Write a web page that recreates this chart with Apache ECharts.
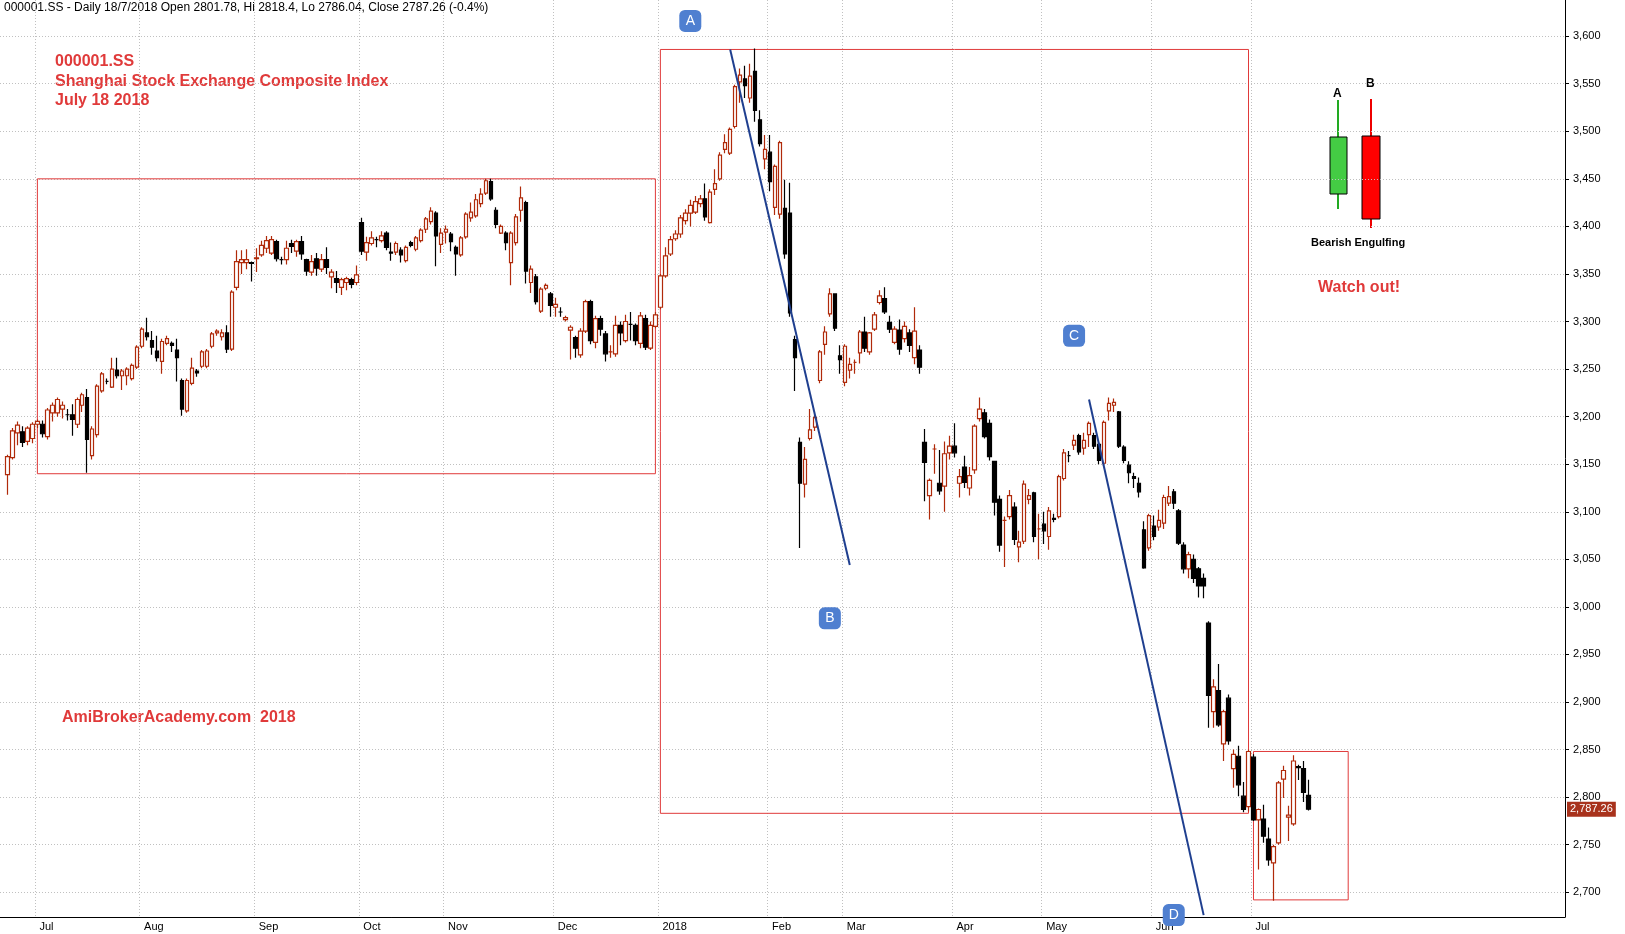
<!DOCTYPE html>
<html><head><meta charset="utf-8">
<script src="https://cdn.jsdelivr.net/npm/echarts@6/dist/echarts.min.js"></script>
<style>html,body{margin:0;padding:0;background:#fff}#c{width:1625px;height:934px}</style>
</head><body><div id="c"></div>
<script>
// [open, close, low, high]
const seg1 = [[3139,3158,3118,3160],[3157,3185,3155,3188],[3183,3191,3170,3195],[3184,3173,3168,3190],[3174,3188,3170,3190],[3177,3192,3172,3194],[3192,3195,3188,3197],[3192,3182,3178,3196],[3179,3207,3176,3209],[3204,3212,3195,3215],[3204,3218,3200,3220],[3208,3212,3198,3216],[3202,3202,3196,3208],[3202,3197,3180,3213],[3192,3218,3188,3220],[3212,3223,3205,3225],[3220,3176,3141,3229],[3159,3187,3155,3190],[3181,3232,3178,3234],[3227,3245,3225,3247],[3237,3237,3234,3240],[3231,3250,3230,3262],[3249,3243,3240,3262],[3243,3248,3228,3250],[3243,3250,3233,3252],[3240,3254,3238,3256],[3252,3273,3250,3275],[3274,3292,3272,3294],[3288,3284,3280,3304],[3280,3273,3265,3290],[3269,3262,3258,3285],[3258,3279,3245,3282],[3277,3282,3275,3285],[3277,3275,3268,3279],[3270,3262,3237,3282],[3238,3208,3201,3240],[3206,3238,3204,3240],[3235,3251,3233,3262],[3248,3246,3242,3250],[3253,3268,3251,3270],[3253,3269,3251,3271],[3274,3287,3272,3289],[3288,3290,3285,3292],[3284,3288,3280,3292],[3288,3271,3267,3296],[3271,3331,3269,3333],[3336,3363,3333,3375],[3362,3365,3350,3375],[3362,3365,3355,3376],[3362,3361,3342,3363],[3366,3367,3352,3377],[3370,3380,3368,3385],[3377,3385,3372,3390],[3372,3386,3370,3390],[3384,3366,3363,3386],[3365,3365,3360,3368],[3365,3377,3360,3385],[3382,3379,3372,3386],[3374,3384,3368,3386],[3384,3371,3365,3390],[3365,3353,3348,3366],[3352,3363,3348,3370],[3366,3356,3348,3372],[3355,3365,3352,3371],[3365,3357,3350,3378],[3347,3352,3335,3355]];
const seg2 = [[3345,3341,3330,3353],[3336,3344,3328,3346],[3341,3345,3333,3347],[3344,3339,3335,3346],[3341,3349,3338,3359],[3404,3374,3370,3409],[3373,3383,3364,3389],[3382,3388,3380,3395],[3386,3386,3378,3389],[3385,3390,3383,3395],[3393,3378,3375,3395],[3373,3372,3364,3383],[3373,3382,3370,3384],[3375,3370,3362,3378],[3364,3378,3362,3380],[3383,3380,3378,3385],[3376,3388,3374,3390],[3385,3396,3383,3398],[3397,3408,3393,3410],[3405,3416,3402,3420],[3414,3390,3358,3416],[3381,3393,3372,3398],[3394,3397,3382,3401],[3392,3384,3374,3394],[3378,3371,3348,3380],[3370,3388,3368,3390],[3389,3413,3387,3415],[3409,3415,3405,3425],[3411,3428,3409,3434],[3424,3434,3420,3440],[3435,3448,3433,3450],[3447,3429,3427,3450],[3417,3402,3398,3420],[3393,3400,3392,3402],[3393,3383,3375,3395],[3362,3393,3338,3395],[3383,3410,3380,3413],[3417,3430,3405,3442],[3425,3353,3340,3427],[3341,3355,3330,3359],[3347,3321,3318,3350],[3311,3334,3309,3336],[3335,3338,3333,3340],[3329,3317,3305,3331],[3315,3318,3305,3325],[3310,3310,3305,3315],[3302,3304,3300,3306],[3291,3294,3260,3296],[3283,3272,3262,3285],[3265,3290,3262,3293],[3290,3321,3288,3323],[3321,3280,3276,3323],[3278,3303,3272,3306],[3303,3292,3285,3306],[3287,3266,3258,3290],[3268,3268,3262,3275],[3266,3296,3263,3306],[3296,3288,3275,3300],[3280,3300,3278,3307],[3297,3297,3280,3310],[3296,3280,3275,3298],[3277,3306,3272,3310],[3303,3273,3270,3307],[3272,3296,3270,3300]];
const seg3 = [[3295,3307,3293,3310],[3315,3348,3313,3350],[3348,3369,3346,3378],[3371,3386,3369,3390],[3387,3392,3385,3396],[3392,3409,3388,3412],[3406,3414,3402,3418],[3414,3422,3400,3428],[3415,3426,3413,3432],[3424,3429,3420,3433],[3429,3410,3406,3445],[3404,3436,3403,3439],[3439,3445,3433,3460],[3450,3475,3448,3478],[3481,3488,3477,3497],[3477,3502,3475,3504],[3505,3547,3503,3549],[3552,3559,3530,3566],[3555,3548,3535,3569],[3535,3558,3530,3571],[3563,3522,3510,3587],[3512,3487,3484,3522],[3471,3481,3460,3496],[3478,3447,3437,3496],[3420,3463,3412,3465],[3413,3488,3408,3490],[3419,3371,3366,3449],[3414,3309,3305,3446],[3281,3262,3227,3285],[3173,3130,3062,3178],[3129,3155,3115,3168],[3177,3186,3175,3208],[3189,3199,3185,3202],[3238,3268,3235,3270],[3276,3289,3265,3295],[3308,3329,3305,3335],[3329,3293,3290,3329],[3264,3260,3245,3275],[3236,3274,3232,3276],[3249,3255,3240,3262],[3257,3257,3245,3260],[3267,3289,3256,3291],[3289,3272,3268,3305],[3268,3288,3265,3289],[3292,3307,3290,3310],[3320,3327,3318,3333],[3324,3310,3308,3336],[3299,3292,3288,3306],[3278,3292,3276,3295],[3291,3271,3265,3302],[3282,3295,3278,3300],[3288,3275,3268,3292],[3262,3290,3255,3315],[3270,3252,3245,3275]];
const seg4 = [[3173,3152,3111,3187],[3117,3133,3092,3135],[3166,3166,3140,3171],[3130,3122,3118,3165],[3127,3161,3100,3174],[3162,3169,3155,3180],[3169,3162,3157,3193],[3130,3137,3115,3145],[3147,3131,3125,3159],[3125,3138,3117,3147],[3144,3190,3140,3192],[3198,3208,3195,3220],[3204,3179,3177,3208],[3193,3158,3154,3197],[3153,3110,3096,3153],[3113,3065,3058,3117],[3091,3091,3042,3095],[3095,3117,3092,3123],[3105,3071,3065,3110],[3063,3068,3047,3080],[3069,3129,3066,3133],[3113,3117,3108,3124],[3120,3074,3068,3121],[3082,3082,3050,3098],[3087,3080,3066,3100],[3074,3101,3060,3105],[3093,3092,3089,3098],[3095,3137,3093,3139],[3135,3162,3133,3166],[3159,3159,3152,3164],[3170,3175,3165,3181],[3180,3163,3160,3182],[3167,3175,3160,3183],[3181,3193,3168,3195],[3180,3169,3166,3183],[3171,3154,3150,3173],[3151,3194,3148,3196],[3206,3214,3196,3220],[3212,3215,3205,3219],[3205,3169,3167,3206],[3168,3154,3151,3170],[3149,3141,3130,3153],[3137,3135,3125,3141],[3130,3121,3115,3136],[3081,3041,3040,3090],[3062,3096,3059,3098],[3085,3074,3070,3096],[3084,3091,3080,3102],[3088,3115,3082,3118],[3109,3116,3106,3127],[3121,3109,3103,3124],[3101,3067,3065,3103],[3065,3040,3035,3068],[3040,3055,3030,3058],[3050,3030,3025,3055],[3040,3022,3010,3042]];
const seg5 = [[3030,3022,3009,3035],[2983,2907,2873,2985],[2890,2916,2873,2924],[2912,2876,2874,2940],[2856,2890,2838,2892],[2904,2859,2855,2908],[2830,2845,2810,2850],[2843,2813,2801,2854],[2801,2787,2784,2816],[2790,2848,2785,2850],[2842,2776,2775,2845],[2776,2787,2724,2788],[2777,2759,2752,2792],[2756,2734,2728,2768],[2731,2748,2691,2750],[2752,2815,2750,2817],[2819,2828,2799,2833],[2779,2781,2754,2791],[2772,2838,2770,2844],[2832,2831,2818,2834],[2830,2805,2795,2838],[2801.78,2787.26,2786.04,2818.4]];
const monthLabels = ['Jul','Aug','Sep','Oct','Nov','Dec','2018','Feb','Mar','Apr','May','Jun','Jul'];
const monthIdx = [7,28,51,72,89,111,132,154,169,191,209,231,251];
const yTicks = [2700,2750,2800,2850,2900,2950,3000,3050,3100,3150,3200,3250,3300,3350,3400,3450,3500,3550,3600];
const lastClose = 2787.26;

const TOTAL = 314;
const candles = ['-'].concat(seg1, seg2, seg3, seg4, seg5);
while (candles.length < TOTAL) candles.push('-');
const cats = candles.map((_, i) => 'd' + i);
const labelOf = {}; monthIdx.forEach((k, j) => labelOf[k] = monthLabels[j]);
const isMonth = (i) => labelOf[i] !== undefined;

const chart = echarts.init(document.getElementById('c'));
const RED = '#e03a3a';
const letter = (t, c, v) => ({coord: [c, v], value: t});
chart.setOption({
  animation: false,
  grid: {left: 0, right: 60, top: 0, bottom: 17},
  xAxis: {
    type: 'category', data: cats, boundaryGap: true,
    axisLine: {lineStyle: {color: '#000'}},
    axisTick: {interval: (i) => isMonth(i), length: 6, lineStyle: {color: '#000'}},
    axisLabel: {interval: (i) => isMonth(i), formatter: (v, i) => labelOf[i] || '', align: 'left', padding: [0,0,0,2],
      color: '#000', fontSize: 11, fontFamily: 'Arial, Liberation Sans', margin: 4},
    splitLine: {show: true, interval: (i) => isMonth(i), lineStyle: {color: '#c0c0c0', type: [1,2]}}
  },
  yAxis: {
    type: 'value', position: 'right', min: 2674, max: 3638,
    axisLine: {show: true, lineStyle: {color: '#000'}},
    axisTick: {show: true, length: 4, customValues: yTicks, lineStyle: {color: '#000'}},
    axisLabel: {color: '#000', fontSize: 11, fontFamily: 'Arial, Liberation Sans', margin: 8, customValues: yTicks,
      formatter: (v) => v.toLocaleString('en-US')},
    splitLine: {show: true, lineStyle: {color: '#c0c0c0', type: [1,2]}}
  },
  series: [{
    type: 'candlestick', data: candles, barWidth: 4,
    itemStyle: {color: '#ffffff', color0: '#000000', borderColor: '#b02a0a', borderColor0: '#000000', borderWidth: 1.2},
    markArea: {silent: true, itemStyle: {color: 'rgba(0,0,0,0)', borderColor: RED, borderWidth: 1},
      data: [
        [{xAxis: 'd7', yAxis: 3450}, {xAxis: 'd131', yAxis: 3140}],
        [{xAxis: 'd132', yAxis: 3586}, {xAxis: 'd250', yAxis: 2783}],
        [{xAxis: 'd251', yAxis: 2848}, {xAxis: 'd270', yAxis: 2692}]
      ]},
    markLine: {silent: true, symbol: 'none', animation: false,
      data: [
        [{coord: ['d146', 3586], lineStyle: {color: '#1f3f8f', width: 2, type: 'solid'}, label: {show: false}},
         {coord: ['d170', 3044]}],
        [{coord: ['d218', 3218], lineStyle: {color: '#1f3f8f', width: 2, type: 'solid'}, label: {show: false}},
         {coord: ['d241', 2676]}]
      ]},
    markPoint: {symbol: 'roundRect', symbolSize: [22, 22], itemStyle: {color: '#4f7fd0'},
      label: {color: '#fff', fontSize: 14, fontFamily: 'Arial'},
      data: [letter('A', 'd138', 3616), letter('B', 'd166', 2988), letter('C', 'd215', 3285), letter('D', 'd235', 2676)]}
  }, {
    type: 'line', data: [], silent: true,
    markLine: {silent: true, symbol: 'none', animation: false,
      lineStyle: {color: 'rgba(0,0,0,0)', width: 1},
      data: [{yAxis: lastClose}],
      label: {show: true, position: 'end', distance: 2, formatter: '2,787.26', color: '#fff',
        backgroundColor: '#a8321c', padding: [2,3], fontSize: 11, fontFamily: 'Arial'}}
  }],
  graphic: [
    {type: 'text', left: 4, top: 2, style: {text: '000001.SS - Daily 18/7/2018 Open 2801.78, Hi 2818.4, Lo 2786.04, Close 2787.26 (-0.4%)', fill: '#000', font: '12px Arial'}},
    {type: 'text', left: 55, top: 52, style: {text: '000001.SS\nShanghai Stock Exchange Composite Index\nJuly 18 2018', fill: RED, font: 'bold 16px Arial', lineHeight: 19.5}},
    {type: 'text', left: 62, top: 710, style: {text: 'AmiBrokerAcademy.com  2018', fill: RED, font: 'bold 16px Arial'}},
    {type: 'text', left: 1318, top: 280, style: {text: 'Watch out!', fill: RED, font: 'bold 16px Arial'}},
    {type: 'line', shape: {x1: 1338, y1: 100, x2: 1338, y2: 209}, style: {stroke: '#22aa22', lineWidth: 2}},
    {type: 'rect', shape: {x: 1330, y: 137, width: 17, height: 57}, style: {fill: '#44cc44', stroke: '#000', lineWidth: 1}},
    {type: 'line', shape: {x1: 1371, y1: 99, x2: 1371, y2: 228}, style: {stroke: '#ee0000', lineWidth: 2}},
    {type: 'rect', shape: {x: 1362, y: 136, width: 18, height: 83}, style: {fill: '#ff0000', stroke: '#000', lineWidth: 1}},
    {type: 'text', left: 1333, top: 88, style: {text: 'A', fill: '#000', font: 'bold 12px Arial'}},
    {type: 'text', left: 1366, top: 78, style: {text: 'B', fill: '#000', font: 'bold 12px Arial'}},
    {type: 'text', left: 1311, top: 237, style: {text: 'Bearish Engulfing', fill: '#000', font: 'bold 11px Arial'}}
  ]
});
</script></body></html>
